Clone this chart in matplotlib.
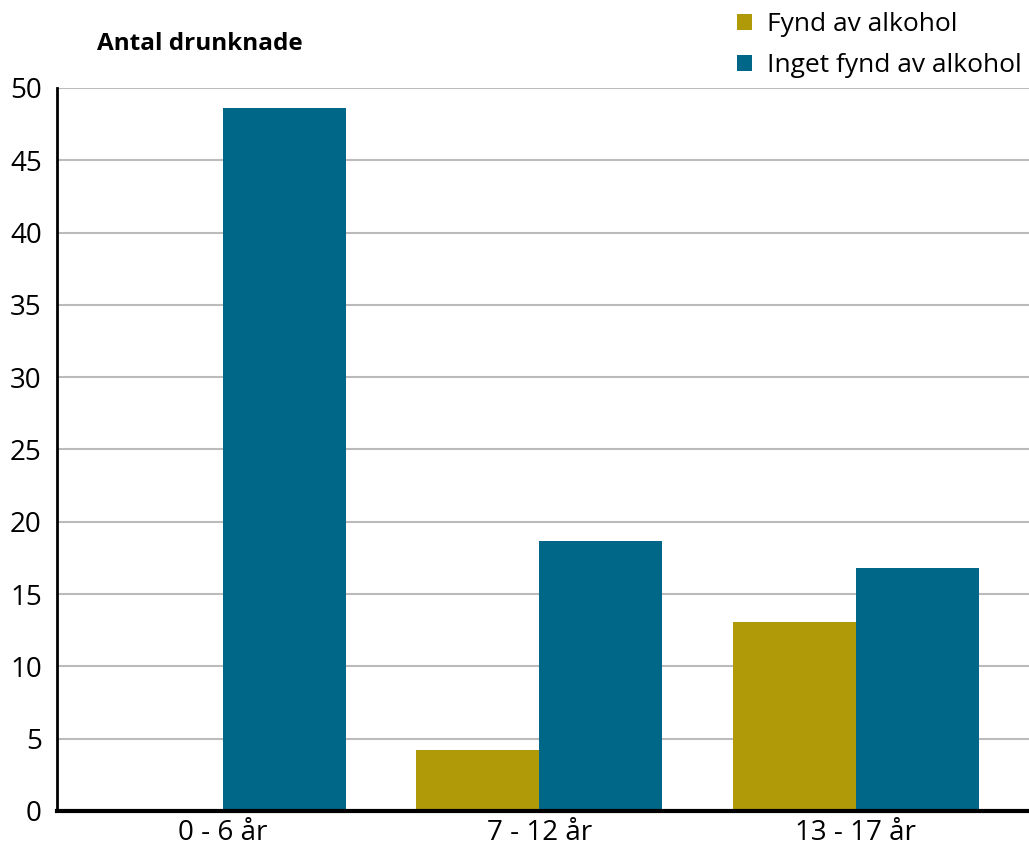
import matplotlib.pyplot as plt
import numpy as np

plt.rcParams['font.family'] = ['Open Sans', 'DejaVu Sans']

# antal drunknade barn per åldersgrupp
groups = ['0 - 6 år', '7 - 12 år', '13 - 17 år']
fynd = [0, 4.2, 13.1]
inget_fynd = [48.6, 18.7, 16.8]
series_names = ['Fynd av alkohol', 'Inget fynd av alkohol']
yticks = [0, 5, 10, 15, 20, 25, 30, 35, 40, 45, 50]

gold = '#B09A08'
blue = '#016788'

fig = plt.figure(figsize=(10.29, 8.5), dpi=100)
ax = fig.add_axes([0.0554, 0.0459, 0.9446, 0.8506])

x = np.arange(len(groups))
w = 0.389
ax.bar(x - w / 2, fynd, w, color=gold, label=series_names[0], zorder=3)
ax.bar(x + w / 2, inget_fynd, w, color=blue, label=series_names[1], zorder=3)

ax.set_ylim(0, 50)
ax.set_xlim(-0.524, 2.547)
ax.set_yticks(yticks)
ax.set_xticks(x)
ax.set_xticklabels(groups, fontsize=20)
ax.tick_params(axis='y', labelsize=20, length=0, pad=11)
ax.tick_params(axis='x', length=0, pad=6)
ax.yaxis.grid(True, color='#bbbbbb', linewidth=1.5, zorder=0)
ax.set_axisbelow(True)

for s in ['top', 'right']:
    ax.spines[s].set_visible(False)
ax.spines['left'].set_linewidth(2)
ax.spines['bottom'].set_linewidth(3)
ax.spines['bottom'].set_zorder(4)

fig.text(0.094, 0.948, 'Antal drunknade', fontsize=17.5, fontweight='bold',
         va='center', ha='left')

fig.legend(loc='upper left', bbox_to_anchor=(0.706, 0.998), frameon=False,
           fontsize=19, handlelength=0.55, handleheight=0.55, handletextpad=0.6,
           labelspacing=0.6, borderaxespad=0)

fig.savefig('out.png', dpi=100)
